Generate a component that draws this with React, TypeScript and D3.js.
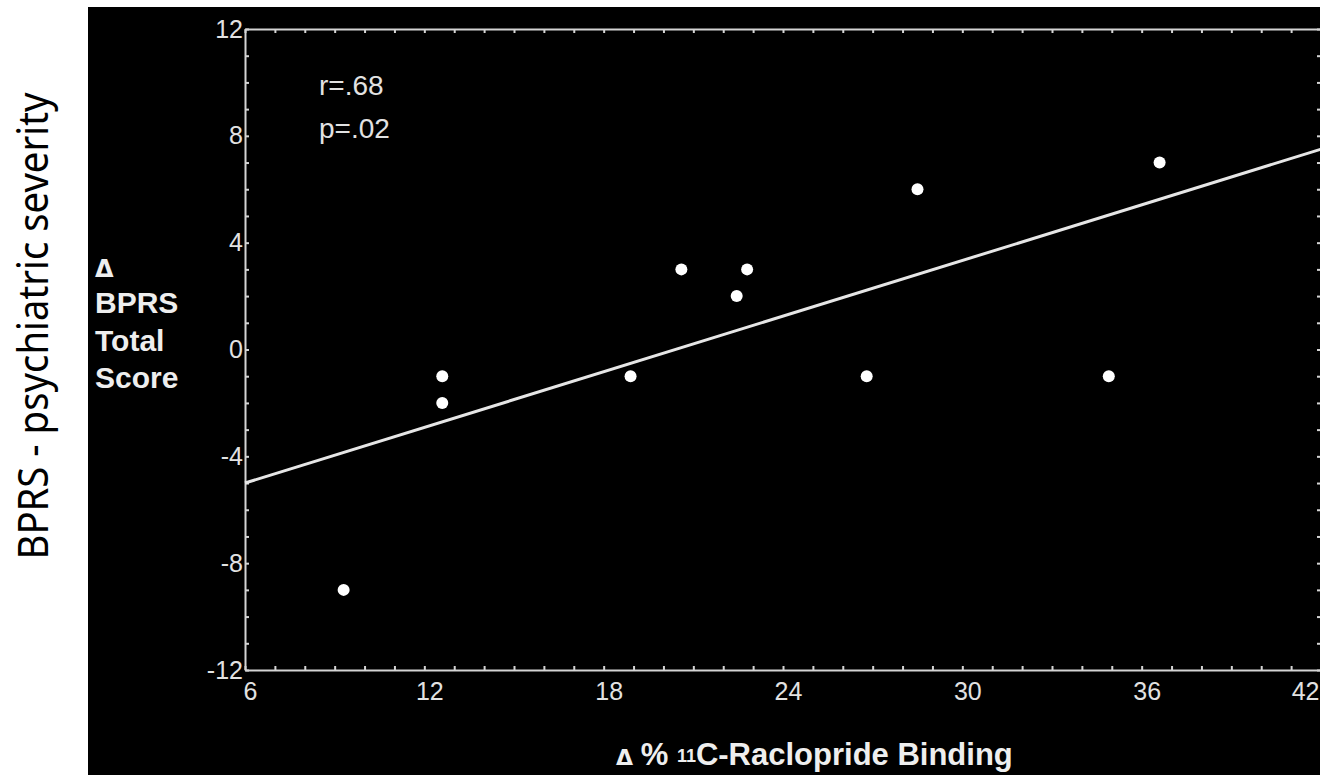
import * as d3 from "d3";
import { useRef, useEffect } from "react";

// data
const bindingChange = [9.3, 12.6, 12.6, 18.9, 20.6, 22.45, 22.8, 26.8, 28.5, 34.9, 36.6];
const bprsChange = [-9, -1, -2, -1, 3, 2, 3, -1, 6, -1, 7];
const fitLine: [number, number][] = [
  [6, -5],
  [42, 7.5],
];
const xMajorTicks = [6, 12, 18, 24, 30, 36, 42];
const yMajorTicks = [-12, -8, -4, 0, 4, 8, 12];
const statLines = ["r=.68", "p=.02"];
const yTitleLines = ["BPRS", "Total", "Score"];

const W = 1320;
const H = 775;

const App = () => {
  const container = useRef<SVGSVGElement | null>(null);

  useEffect(() => {
    const node = container.current;
    if (!node) return;
    const svg = d3.select(node);
    svg.selectAll("*").remove();

    const font = "'Liberation Sans', Arial, Helvetica, sans-serif";
    const axisColor = "#d4d4d4";
    const textColor = "#e2e2e2";

    let plot = { l: 245, r: 1321, t: 29, b: 670 };

    let xScale = d3.scaleLinear().domain([6, 42]).range([plot.l, plot.r]);
    let yScale = d3.scaleLinear().domain([-12, 12]).range([plot.b, plot.t]);

    // white page + black panel
    svg.append("rect").attr("width", W).attr("height", H).attr("fill", "#fff");
    svg
      .append("rect")
      .attr("x", 88)
      .attr("y", 7)
      .attr("width", W - 88)
      .attr("height", H - 7)
      .attr("fill", "#000");

    // big outside label
    svg
      .append("text")
      .attr("transform", `translate(48,${326})rotate(-90)`)
      .attr("text-anchor", "middle")
      .attr("font-family", "'Noto Sans', 'Open Sans', sans-serif")
      .attr("font-size", 42)
      .attr("textLength", 467)
      .attr("lengthAdjust", "spacingAndGlyphs")
      .attr("fill", "#000")
      .text("BPRS - psychiatric severity");

    const xMinor = d3.range(6, 43);
    const yMinor = d3.range(-12, 13);

    const styleAxis = (g: any) => {
      g.select(".domain").attr("stroke", axisColor).attr("stroke-width", 2);
      g.selectAll(".tick line").attr("stroke", axisColor).attr("stroke-width", 2);
      g.selectAll(".tick text")
        .attr("fill", textColor)
        .attr("font-family", font)
        .attr("font-size", 25);
    };

    let xAxis = d3
      .axisBottom(xScale)
      .tickValues(xMinor)
      .tickSizeInner(-4)
      .tickSizeOuter(0)
      .tickPadding(12)
      .tickFormat((d: any) => (xMajorTicks.includes(d) ? String(d) : ""));
    let yAxis = d3
      .axisLeft(yScale)
      .tickValues(yMinor)
      .tickSizeInner(-4)
      .tickSizeOuter(0)
      .tickPadding(2)
      .tickFormat((d: any) => (yMajorTicks.includes(d) ? String(d) : ""));

    let xaxisg = svg.append("g").attr("transform", `translate(0,${plot.b})`).call(xAxis);
    styleAxis(xaxisg);
    xaxisg.selectAll(".tick text").attr("dx", 5);
    // last label sits against the right edge of the page
    xaxisg
      .selectAll(".tick text")
      .filter((d: any) => d === 42)
      .attr("text-anchor", "end")
      .attr("dx", W - plot.r - 1);

    let yaxisg = svg.append("g").attr("transform", `translate(${plot.l},0)`).call(yAxis);
    styleAxis(yaxisg);

    let topg = svg
      .append("g")
      .attr("transform", `translate(0,${plot.t})`)
      .call(d3.axisTop(xScale).tickValues(xMinor).tickSizeInner(-4).tickSizeOuter(0).tickFormat(() => ""));
    styleAxis(topg);

    let rightg = svg
      .append("g")
      .attr("transform", `translate(${plot.r},0)`)
      .call(d3.axisRight(yScale).tickValues(yMinor).tickSizeInner(-4).tickSizeOuter(0).tickFormat(() => ""));
    styleAxis(rightg);

    // regression line
    let lineGen = d3
      .line<[number, number]>()
      .x((d) => xScale(d[0]))
      .y((d) => yScale(d[1]));
    svg
      .append("path")
      .attr("d", lineGen(fitLine))
      .attr("fill", "none")
      .attr("stroke", "#e6e6e6")
      .attr("stroke-width", 3);

    // points
    svg
      .selectAll(".dot")
      .data(bindingChange.map((x, i) => [x, bprsChange[i]]))
      .join("circle")
      .attr("class", "dot")
      .attr("cx", (d) => xScale(d[0]))
      .attr("cy", (d) => yScale(d[1]))
      .attr("r", 6)
      .attr("fill", "#fff");

    // r / p annotation
    svg
      .selectAll(".stat")
      .data(statLines)
      .join("text")
      .attr("class", "stat")
      .attr("x", 319)
      .attr("y", (d, i) => 95 + i * 43)
      .attr("font-family", font)
      .attr("font-size", 28)
      .attr("fill", textColor)
      .text((d) => d);

    // y-axis title
    svg
      .append("text")
      .attr("x", 95)
      .attr("y", 277)
      .attr("font-family", "'DejaVu Sans', sans-serif")
      .attr("font-weight", 700)
      .attr("font-size", 24)
      .attr("fill", "#eee")
      .text("Δ");
    svg
      .selectAll(".ytitle")
      .data(yTitleLines)
      .join("text")
      .attr("class", "ytitle")
      .attr("x", 95)
      .attr("y", (d, i) => 313 + i * 37.5)
      .attr("font-family", font)
      .attr("font-weight", 700)
      .attr("font-size", 30)
      .attr("fill", "#eee")
      .text((d) => d);

    // x-axis title
    let xt = svg
      .append("text")
      .attr("x", 616)
      .attr("y", 765)
      .attr("font-family", font)
      .attr("font-weight", 700)
      .attr("font-size", 31)
      .attr("fill", "#eee");
    xt.append("tspan")
      .attr("font-family", "'DejaVu Sans', sans-serif")
      .attr("font-size", 22)
      .text("Δ ");
    xt.append("tspan").text("% ");
    xt.append("tspan").attr("font-size", 18).attr("dy", -3).text("11");
    xt.append("tspan").attr("dy", 3).text("C-Raclopride Binding");
  });

  return (
    <svg
      ref={container}
      width={W}
      height={H}
      style={{ position: "absolute", left: 0, top: 0, display: "block" }}
    ></svg>
  );
};

export default App;
